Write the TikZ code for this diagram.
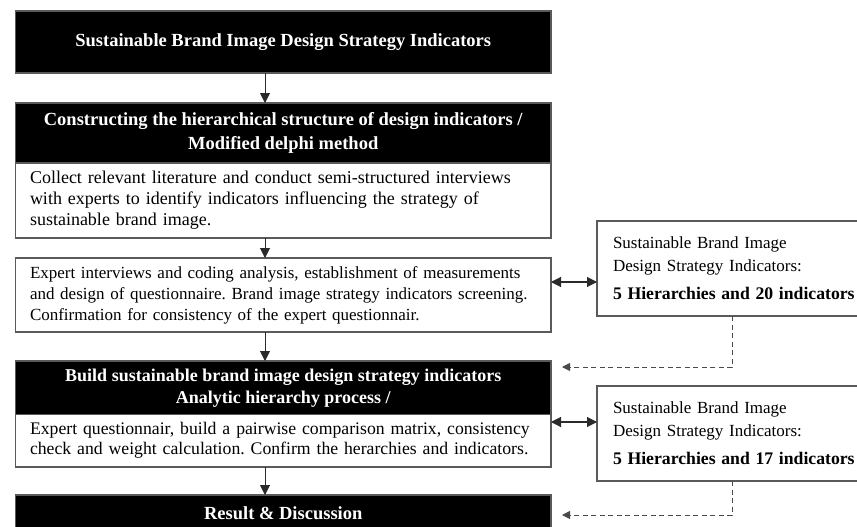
\documentclass[tikz,border=0pt]{standalone}
\usepackage{fontspec}
\setmainfont{Liberation Serif}
\usetikzlibrary{arrows.meta}
\definecolor{boxgray}{HTML}{5A5A5A}
\definecolor{linegray}{HTML}{2A2A2A}
\definecolor{dashgray}{HTML}{4A4A4A}
\frenchspacing
% left-aligned lines that never wrap
\newcommand{\linesblock}[1]{\begin{tabular}{@{}l@{}}#1\end{tabular}}
\begin{document}
\begin{tikzpicture}[x=1pt,y=-1pt,
  mainbox/.style={draw=boxgray, line width=1.1pt, minimum width=535.5pt,
    inner sep=0pt, outer sep=0pt},
  headbox/.style={mainbox, fill=black, text=white,
    font=\bfseries\fontsize{18.5}{24}\selectfont, align=center},
  bodybox/.style={mainbox, fill=white, text=black,
    font=\fontsize{18}{21}\selectfont, align=left,
    text width=506.5pt, inner xsep=14.5pt},
  sidebox/.style={draw=boxgray, line width=1.1pt, fill=white, inner sep=0pt,
    inner xsep=16pt, outer sep=0pt, minimum width=283pt, minimum height=95pt,
    text width=251pt, align=left, font=\fontsize{17}{22.5}\selectfont},
  flow/.style={draw=linegray, line width=1pt,
    -{Triangle[length=10pt,width=10pt]}},
  twoway/.style={draw=linegray, line width=1.1pt,
    {Triangle[length=10pt,width=10pt]}-{Triangle[length=10pt,width=10pt]}},
  feedback/.style={draw=dashgray, line width=1pt, dash pattern=on 5pt off 3.5pt,
    -{Triangle[length=8pt,width=8pt]}}
]
\useasboundingbox (0,0) rectangle (857,527);
\clip (0,0) rectangle (857,527);
\fill[white] (0,0) rectangle (857,527);

% main column
\node[headbox, minimum height=62pt] (b1) at (283.25,42)
  {Sustainable Brand Image Design Strategy Indicators};
\node[headbox, minimum height=60pt] (b2h) at (283.25,133)
  {Constructing the hierarchical structure of design indicators /\\Modified delphi method};
\node[bodybox, minimum height=75pt] (b2b) at (283.25,200.5)
  {\linesblock{Collect relevant literature and conduct semi-structured interviews\\
   with experts to identify indicators influencing the strategy of\\
   sustainable brand image.}};
\node[bodybox, minimum height=74pt, font=\fontsize{17}{21}\selectfont] (b3) at (283.25,295)
  {\linesblock{Expert interviews and coding analysis, establishment of measurements\\
   and design of questionnaire. Brand image strategy indicators screening.\\
   Confirmation for consistency of the expert questionnair.}};
\node[headbox, minimum height=53.5pt, font=\bfseries\fontsize{18}{22}\selectfont] (b4h) at (283.25,387.75)
  {Build sustainable brand image design strategy indicators\\Analytic hierarchy process /};
\node[bodybox, minimum height=52.5pt, font=\fontsize{17.7}{20}\selectfont] (b4b) at (283.25,440.75)
  {\linesblock{Expert questionnair, build a pairwise comparison matrix, consistency\\
   check and weight calculation. Confirm the herarchies and indicators.}};
\node[headbox, minimum height=36pt] (b5) at (283.25,513)
  {Result \& Discussion};

% side results
\node[sidebox] (r1) at (738.5,268.5)
  {Sustainable Brand Image\\Design Strategy Indicators:\\[6pt]
   {\bfseries\fontsize{17.7}{22.5}\selectfont 5 Hierarchies and 20 indicators}};
\node[sidebox] (r2) at (738.5,433.5)
  {Sustainable Brand Image\\Design Strategy Indicators:\\[6pt]
   {\bfseries\fontsize{17.7}{22.5}\selectfont 5 Hierarchies and 17 indicators}};

% helper coordinates
\coordinate (ax) at (265,0);
\coordinate (y1) at (0,282);
\coordinate (y2) at (0,422);
\coordinate (dk) at (732,0);
\coordinate (d1) at (562,367);
\coordinate (d2) at (562,515);

% vertical flow
\draw[flow] (b1.south -| ax) -- (b2h.north -| ax);
\draw[flow] (b2b.south -| ax) -- (b3.north -| ax);
\draw[flow] (b3.south -| ax) -- (b4h.north -| ax);
\draw[flow] (b4b.south -| ax) -- (b5.north -| ax);

% exchange with the side results
\draw[twoway] (b3.east |- y1) -- (r1.west |- y1);
\draw[twoway] (b4b.east |- y2) -- (r2.west |- y2);

% feedback into the next stage
\draw[feedback] (r1.south -| dk) |- (d1);
\draw[feedback] (r2.south -| dk) |- (d2);
\end{tikzpicture}
\end{document}
